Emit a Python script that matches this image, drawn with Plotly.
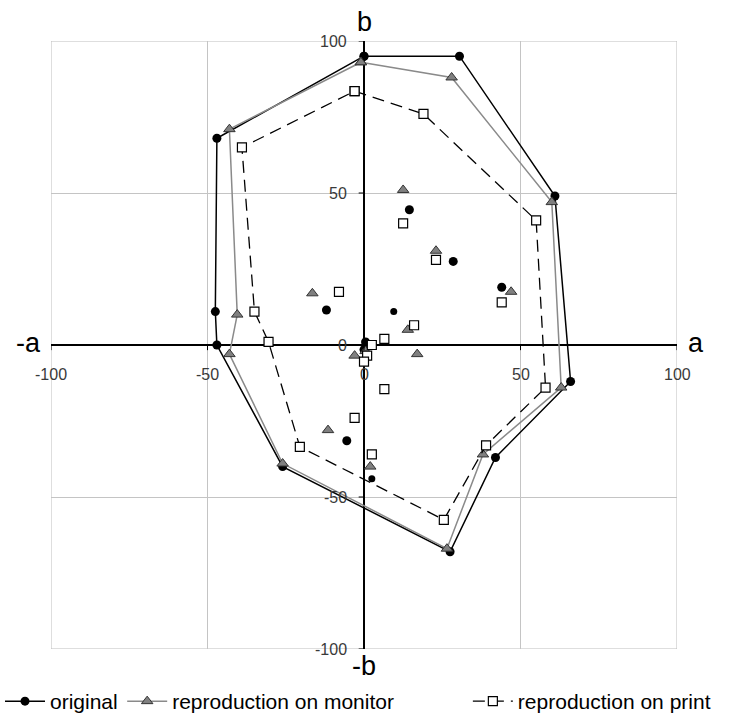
import plotly.graph_objects as go

# Gamut outlines in the a-b plane (vertices in drawing order)
orig_a = [0, 30.5, 61, 66, 42, 27.5, -26, -47, -47.5, -47]
orig_b = [95, 95, 49, -12, -37, -68, -40, 0, 11, 68]
mon_a = [-1, 28, 60, 63, 38, 26.5, -26, -43, -40.5, -43]
mon_b = [93, 88, 47, -14, -36, -67, -39, -3, 10, 71]
prn_a = [-3, 19, 55, 58, 39, 25.5, -20.5, -30.5, -35, -39]
prn_b = [83.5, 76, 41, -14, -33, -57.5, -33.5, 1, 11, 65]

# Individual colour samples inside the gamut
orig_pts_a = [14.5, 28.5, 44, -12, 0.5, 0, -5.5]
orig_pts_b = [44.5, 27.5, 19, 11.5, 1, -1.5, -31.5]
orig_small_a = [9.5, 2.5]
orig_small_b = [11, -44]
mon_pts_a = [12.5, 23, 47, -16.5, 14, 17, -3, 0.5, -11.5, 2]
mon_pts_b = [51, 31, 17.5, 17, 5, -3, -3.5, -2, -28, -40]
prn_pts_a = [12.5, 23, 44, -8, 16, 6.5, 2.5, 1, 0, 6.5, -3, 2.5]
prn_pts_b = [40, 28, 14, 17.5, 6.5, 2, 0, -3.5, -5.5, -14.5, -24, -36]

tick_vals = [-100, -50, 0, 50, 100]
tick_text = ["-100", "-50", "0", "50", "100"]

FONT = "Liberation Sans Narrow, Arial Narrow, Liberation Sans, Arial"


def closed(v):
    return list(v) + [v[0]]


orig_marker = dict(symbol="circle", size=9, color="black")
mon_marker = dict(symbol="triangle-up", size=10, color="#808080",
                  line=dict(color="#333333", width=1))
prn_marker = dict(symbol="square", size=9, color="white",
                  line=dict(color="black", width=1.2))

fig = go.Figure()

fig.add_trace(go.Scatter(x=closed(orig_a), y=closed(orig_b), mode="lines+markers",
                         name="original", line=dict(color="black", width=1.5),
                         marker=orig_marker, legend="legend"))
fig.add_trace(go.Scatter(x=closed(mon_a), y=closed(mon_b), mode="lines+markers",
                         name="reproduction on monitor",
                         line=dict(color="#8a8a8a", width=1.5), marker=mon_marker,
                         legend="legend2"))
fig.add_trace(go.Scatter(x=closed(prn_a), y=closed(prn_b), mode="lines+markers",
                         name="reproduction on print",
                         line=dict(color="black", width=1.3, dash="12px,7px"),
                         marker=prn_marker, legend="legend3"))

fig.add_trace(go.Scatter(x=orig_pts_a, y=orig_pts_b, mode="markers",
                         marker=orig_marker, showlegend=False))
fig.add_trace(go.Scatter(x=orig_small_a, y=orig_small_b, mode="markers",
                         marker=dict(symbol="circle", size=7, color="black"),
                         showlegend=False))
fig.add_trace(go.Scatter(x=mon_pts_a, y=mon_pts_b, mode="markers",
                         marker=mon_marker, showlegend=False))
fig.add_trace(go.Scatter(x=prn_pts_a, y=prn_pts_b, mode="markers",
                         marker=prn_marker, showlegend=False))

shapes = [dict(type="rect", xref="x", yref="y", x0=-100, x1=100, y0=-100, y1=100,
               line=dict(color="#bdbdbd", width=1), layer="below")]
annotations = []
for v, t in zip(tick_vals, tick_text):
    # tick marks on the crossing axes
    shapes.append(dict(type="line", xref="x", yref="y", x0=v, x1=v, y0=0, y1=-1.7,
                       line=dict(color="black", width=1)))
    shapes.append(dict(type="line", xref="x", yref="y", x0=0, x1=-1.7, y0=v, y1=v,
                       line=dict(color="black", width=1)))
    annotations.append(dict(x=v, y=0, xref="x", yref="y", text=t, showarrow=False,
                            xanchor="center", yanchor="top", yshift=-19,
                            font=dict(family=FONT, size=16, color="#3a3a3a")))
    annotations.append(dict(x=0, y=v, xref="x", yref="y", text=t, showarrow=False,
                            xanchor="right", yanchor="middle", xshift=-15,
                            font=dict(family=FONT, size=16, color="#3a3a3a")))

title_font = dict(family="Liberation Sans, Arial", size=27, color="black")
annotations += [
    dict(x=-100, y=0, xref="x", yref="y", text="-a", showarrow=False,
         xanchor="right", yanchor="middle", xshift=-8, yshift=2, font=title_font),
    dict(x=100, y=0, xref="x", yref="y", text="a", showarrow=False,
         xanchor="left", yanchor="middle", xshift=9, yshift=2, font=title_font),
    dict(x=0, y=100, xref="x", yref="y", text="b", showarrow=False,
         xanchor="center", yanchor="bottom", yshift=2, font=title_font),
    dict(x=0, y=-100, xref="x", yref="y", text="-b", showarrow=False,
         xanchor="center", yanchor="top", yshift=0, font=title_font),
]

axis_common = dict(range=[-100, 100], dtick=50, tick0=0, showgrid=True,
                   gridcolor="#c4c4c4", gridwidth=1, zeroline=True,
                   zerolinecolor="black", zerolinewidth=1.5,
                   showticklabels=False, ticks="", showline=False, fixedrange=True)


def legend_box(x0):
    return dict(orientation="h", xref="container", yref="container",
                x=x0, y=0.0, xanchor="left", yanchor="bottom",
                font=dict(family=FONT, size=21, color="black"),
                itemwidth=40, bgcolor="rgba(0,0,0,0)")


fig.update_layout(
    width=745, height=722,
    margin=dict(l=51, r=68, t=41, b=73),
    paper_bgcolor="white", plot_bgcolor="white",
    xaxis=axis_common, yaxis=axis_common,
    shapes=shapes, annotations=annotations,
    showlegend=True,
    legend=legend_box(0.0),
    legend2=legend_box(0.164),
    legend3=legend_box(0.628),
)

fig.write_html("out.html")
